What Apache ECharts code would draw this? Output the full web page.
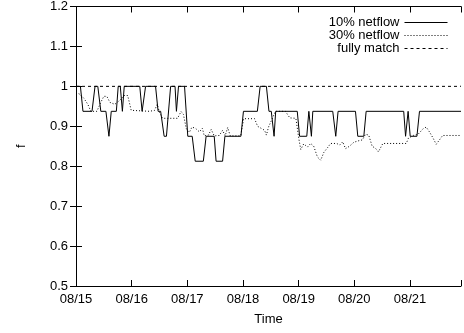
<!DOCTYPE html>
<html>
<head>
<meta charset="utf-8">
<script src="https://cdn.jsdelivr.net/npm/echarts@6/dist/echarts.min.js"></script>
<style>
html,body{margin:0;padding:0;background:#fff;}
#c{width:464px;height:333px;}
</style>
</head>
<body>
<div id="c"></div>
<script>
// hours since 08/15 00:00, value
var xTickLabels = ['08/15','08/16','08/17','08/18','08/19','08/20','08/21'];
var yTicks = [0.5,0.6,0.7,0.8,0.9,1,1.1,1.2];
var seriesNames = ['10% netflow','30% netflow','fully match'];

var netflow10 = [
[0,1],[1.9,1],[3.0,0.9375],[6.9,0.9375],[8.2,1],[9.4,1],[10.7,0.9375],[12.9,0.9375],[14.2,0.875],[15.2,0.9375],
[17.4,0.9375],[18.2,1],[19.1,1],[20.0,0.9375],[20.8,1],[27.5,1],[28.5,0.9375],[30.0,1],[34.3,1],[35.4,0.9375],
[36.5,0.9375],[38.0,0.875],[39.0,0.875],[40.8,1],[42.7,1],[43.3,0.9375],[44.2,1],[46.8,1],[48.2,0.875],[50.1,0.875],
[51.4,0.8125],[54.9,0.8125],[56.1,0.875],[59.6,0.875],[60.4,0.8125],[63.2,0.8125],[64.2,0.875],[71.1,0.875],[72.2,0.9375],
[78.2,0.9375],[79.4,1],[82.1,1],[83.2,0.9375],[84.2,0.9375],[85.4,0.875],[86.1,0.9375],[95.4,0.9375],[96.4,0.875],
[99.5,0.875],[100.4,0.9375],[100.8,0.9375],[101.5,0.875],[102.1,0.9375],[110.7,0.9375],[112.0,0.875],[113.0,0.9375],
[120.5,0.9375],[121.5,0.875],[124.1,0.875],[125.1,0.9375],[141.3,0.9375],[142.1,0.875],[143.2,0.9375],[143.5,0.9375],
[144.1,0.875],[147.0,0.875],[148.1,0.9375],[166,0.9375]
];

var netflow30 = [
[0,0.985],[1.7,0.98],[3.4,0.97],[5.1,0.955],[6.4,0.9375],[9.0,0.9375],[10.7,0.96],[12.0,0.975],[13.3,0.975],[14.6,0.96],
[16.7,0.955],[18.9,0.965],[20.6,0.977],[22.3,0.977],[23.8,0.94],[31.7,0.9375],[33.9,0.94],[35.0,0.955],[36.0,0.935],
[37.3,0.92],[43.8,0.92],[45.3,0.937],[46.3,0.93],[47.6,0.893],[48.9,0.885],[50.0,0.898],[51.5,0.895],[53.2,0.886],
[54.5,0.895],[55.3,0.876],[57.1,0.878],[58.3,0.892],[59.6,0.876],[61.8,0.877],[63.2,0.89],[64.3,0.876],[65.4,0.897],
[66.5,0.876],[71.0,0.876],[72.3,0.919],[77.0,0.919],[78.3,0.9],[79.8,0.895],[81.3,0.89],[82.1,0.878],[83.0,0.898],
[86.0,0.9375],[90.3,0.9375],[92.2,0.921],[94.8,0.92],[96.1,0.868],[96.9,0.842],[98.2,0.856],[99.8,0.848],[101.2,0.857],
[102.5,0.85],[104.1,0.823],[105.5,0.815],[106.9,0.835],[108.4,0.846],[109.8,0.857],[112.4,0.857],[113.7,0.853],
[115.0,0.861],[116.2,0.844],[117.9,0.85],[119.8,0.86],[122.0,0.864],[123.5,0.866],[124.8,0.88],[126.2,0.878],
[127.7,0.85],[129.1,0.845],[130.4,0.836],[132.3,0.857],[142.4,0.857],[143.3,0.87],[145.4,0.877],[147.5,0.88],
[149.7,0.894],[151.0,0.898],[152.5,0.885],[154.0,0.87],[155.3,0.855],[156.6,0.865],[158.1,0.877],[166,0.877]
];

var fullyMatch = [[0,1],[166,1]];

var FONT = '"Liberation Sans", Arial, Helvetica, sans-serif';
var chart = echarts.init(document.getElementById('c'), null, {renderer:'canvas'});
var axisLine = {show:true, lineStyle:{color:'#000', width:1}};
var tick = {show:true, inside:true, length:6, lineStyle:{color:'#000', width:1}};
var xMin = 0, xMax = 166, yMin = yTicks[0], yMax = yTicks[yTicks.length-1];

chart.setOption({
  animation:false,
  backgroundColor:'#fff',
  textStyle:{fontFamily:FONT},
  grid:{left:76, right:1, top:6, bottom:47, containLabel:false},
  legend:{
    orient:'vertical', right:16, top:16, align:'right', padding:0,
    itemWidth:43, itemHeight:10, itemGap:0,
    itemStyle:{color:'rgba(0,0,0,0)', borderColor:'rgba(0,0,0,0)', borderWidth:0},
    lineStyle:{width:1},
    textStyle:{fontFamily:FONT, fontSize:13, color:'#000', lineHeight:12.5},
    data:seriesNames
  },
  xAxis:[{
    type:'value', min:xMin, max:xMax, interval:24, position:'bottom',
    name:'Time', nameLocation:'middle', nameGap:27,
    nameTextStyle:{fontFamily:FONT, fontSize:13, color:'#000'},
    axisLine:axisLine, axisTick:tick, splitLine:{show:false},
    axisLabel:{margin:7, fontFamily:FONT, fontSize:13, color:'#000',
      formatter:function(v){ var i=Math.round(v/24); return xTickLabels[i]||''; }}
  },{
    type:'value', min:xMin, max:xMax, interval:24, position:'top',
    axisLine:axisLine, axisTick:tick, splitLine:{show:false}, axisLabel:{show:false}
  }],
  yAxis:[{
    type:'value', min:yMin, max:yMax, interval:0.1, position:'left',
    name:'f', nameLocation:'middle', nameGap:48, nameRotate:90,
    nameTextStyle:{fontFamily:FONT, fontSize:13, color:'#000'},
    axisLine:axisLine, axisTick:tick, splitLine:{show:false},
    axisLabel:{margin:8, fontFamily:FONT, fontSize:13, color:'#000',
      formatter:function(v){ return String(Math.round(v*10)/10); }}
  },{
    type:'value', min:yMin, max:yMax, interval:0.1, position:'right',
    axisLine:axisLine, axisTick:tick, splitLine:{show:false}, axisLabel:{show:false}
  }],
  series:[
    {name:seriesNames[0], type:'line', data:netflow10, symbol:'none', showSymbol:false,
     lineStyle:{color:'#000', width:1, type:'solid'}, itemStyle:{color:'#000'}, z:3},
    {name:seriesNames[1], type:'line', data:netflow30, symbol:'none', showSymbol:false,
     lineStyle:{color:'#000', width:1, type:[1,2]}, itemStyle:{color:'#000'}, z:2},
    {name:seriesNames[2], type:'line', data:fullyMatch, symbol:'none', showSymbol:false,
     lineStyle:{color:'#000', width:1, type:[3,3]}, itemStyle:{color:'#000'}, z:1}
  ]
});
</script>
</body>
</html>
